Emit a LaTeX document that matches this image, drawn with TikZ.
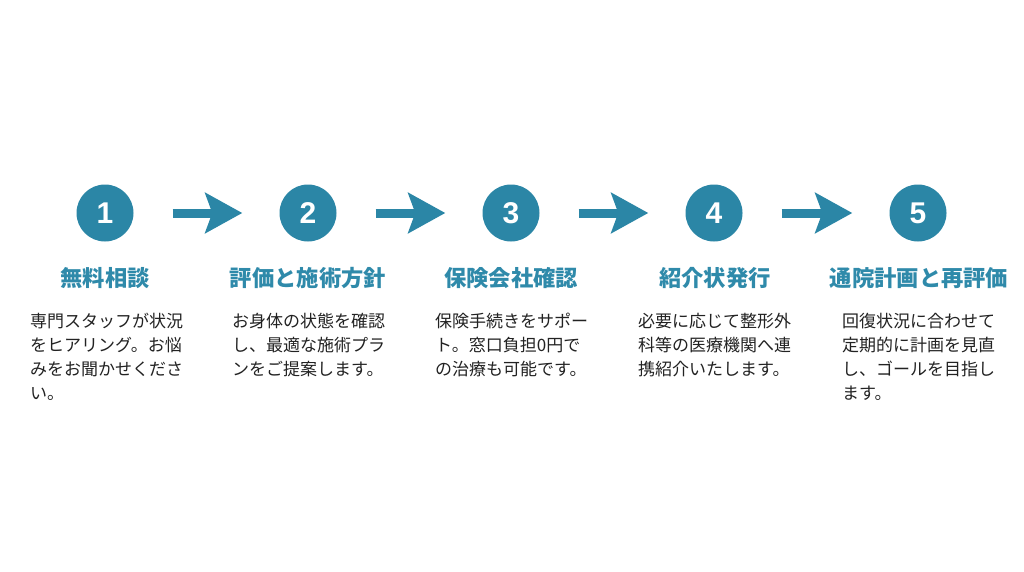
\documentclass[tikz,border=0pt]{standalone}
\usepackage{fontspec}
\newfontfamily\jp{Noto Sans CJK JP}
\newfontfamily\numfont{Liberation Sans}
\usetikzlibrary{arrows.meta}
\definecolor{teal1}{HTML}{2B86A6}
\definecolor{titlec}{HTML}{2F8AAA}
\definecolor{bodyc}{HTML}{222222}
\tikzset{
  stepcircle/.style={circle, fill=teal1, minimum size=57pt, inner sep=0pt,
    text=white, font=\numfont\bfseries\fontsize{30}{30}\selectfont},
  steptitle/.style={text=titlec, font=\jp\bfseries\fontsize{22.3}{24}\selectfont, inner sep=0pt},
  stepbody/.style={text=bodyc, font=\jp\fontsize{17}{24}\selectfont, align=left,
    anchor=north west, inner sep=0pt},
  flowarrow/.style={draw=teal1, line width=9pt,
    -{Stealth[length=37pt, width=40pt, inset=7pt]}, shorten <=39pt, shorten >=37pt}
}
\begin{document}
\begin{tikzpicture}[x=1pt, y=-1pt]
\useasboundingbox[fill=white] (0,0) rectangle (1024,572);
\foreach \i/\x in {1/105, 2/308, 3/511, 4/714, 5/918} {
  \node[stepcircle] (c\i) at (\x,213) {\i};
}
\foreach \a/\b in {1/2, 2/3, 3/4, 4/5} {
  \draw[flowarrow] (c\a) -- (c\b);
}
\node[steptitle] (t1) at (105,278) {無料相談};
\node[steptitle] (t2) at (308,278) {評価と施術方針};
\node[steptitle] (t3) at (511,278) {保険会社確認};
\node[steptitle] (t4) at (715,278) {紹介状発行};
\node[steptitle] (t5) at (919,278) {通院計画と再評価};

\node[stepbody] (b1) at (30,313) {専門スタッフが状況\\をヒアリング。お悩\\みをお聞かせくださ\\い。};
\node[stepbody] (b2) at (232,313) {お身体の状態を確認\\し、最適な施術プラ\\ンをご提案します。};
\node[stepbody] (b3) at (435,313) {保険手続きをサポー\\ト。窓口負担0円で\\の治療も可能です。};
\node[stepbody] (b4) at (638,313) {必要に応じて整形外\\科等の医療機関へ連\\携紹介いたします。};
\node[stepbody] (b5) at (842,313) {回復状況に合わせて\\定期的に計画を見直\\し、ゴールを目指し\\ます。};
\end{tikzpicture}
\end{document}
